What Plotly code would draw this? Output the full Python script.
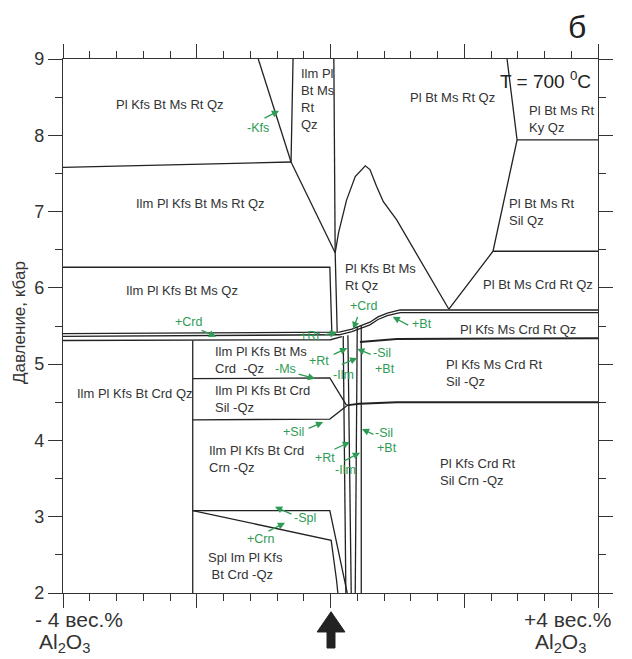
import plotly.graph_objects as go

# ---- data: X = Al2O3 deviation (wt%), P = pressure (kbar) ----
b_top_left_x = [-4.0, -0.59];            b_top_left_y = [7.58, 7.65]
b_kfs_x = [-1.08, -0.59];                b_kfs_y = [9.0, 7.65]
b_vert1_x = [-0.56, -0.59];              b_vert1_y = [9.0, 7.65]
b_diag_x = [-0.59, 0.07];                b_diag_y = [7.65, 6.46]
b_vert2_x = [0.05, 0.07];                b_vert2_y = [9.0, 6.46]
b_curve_x = [0.07, 0.12, 0.24, 0.37, 0.52, 0.59, 0.69, 0.79, 0.99, 1.34, 1.77]
b_curve_y = [6.46, 6.72, 7.15, 7.46, 7.60, 7.55, 7.33, 7.13, 6.89, 6.37, 5.72]
b_rightV_x = [1.77, 2.43, 2.79, 2.64];   b_rightV_y = [5.72, 6.48, 7.94, 9.0]
b_ky_x = [2.79, 4.0];                    b_ky_y = [7.94, 7.94]
b_sil_x = [2.43, 4.0];                   b_sil_y = [6.48, 6.48]
b_msqz_x = [-4.0, -0.01, 0.02];          b_msqz_y = [6.27, 6.27, 5.41]
b_apex_x = [0.07, 0.10];                 b_apex_y = [6.46, 5.42]
b_crd1_x = [-4.0, 0.13, 0.32, 0.44, 0.59, 0.71, 0.85, 1.04, 4.0]
b_crd1_y = [5.40, 5.42, 5.46, 5.50, 5.55, 5.62, 5.67, 5.71, 5.71]
b_crd2_x = [-4.0, 0.13, 0.32, 0.44, 0.59, 0.71, 0.85, 1.04, 4.0]
b_crd2_y = [5.365, 5.385, 5.425, 5.465, 5.515, 5.585, 5.635, 5.675, 5.675]
b_low_x = [-4.0, 0.0, 0.17];             b_low_y = [5.31, 5.32, 5.36]
b_vleft_x = [-2.06, -2.06];              b_vleft_y = [5.31, 2.0]
b_ms_x = [-2.06, -0.01, 0.24];           b_ms_y = [4.81, 4.82, 4.46]
b_silbox_x = [-2.06, -0.01, 0.24];       b_silbox_y = [4.27, 4.28, 4.45]
b_r45_x = [0.24, 0.43, 0.99, 4.0];       b_r45_y = [4.46, 4.48, 4.50, 4.50]
b_r53_x = [0.44, 0.99, 4.0];             b_r53_y = [5.29, 5.33, 5.34]
b_spl1_x = [-2.06, -0.01, 0.25];         b_spl1_y = [3.08, 3.08, 2.0]
b_spl2_x = [-2.06, 0.01, 0.09, 0.11];    b_spl2_y = [3.08, 2.69, 2.17, 2.0]
b_v1_x = [0.19, 0.23];                   b_v1_y = [5.37, 2.0]
b_v2_x = [0.26, 0.31];                   b_v2_y = [5.38, 2.0]
b_v3_x = [0.40, 0.37];                   b_v3_y = [5.49, 2.0]
b_v4_x = [0.46, 0.46];                   b_v4_y = [5.50, 2.0]

# field labels
field_text = ["Pl Kfs Bt Ms Rt Qz", "Pl Bt Ms Rt Qz", "Ilm Pl Kfs Bt Ms Rt Qz",
              "Ilm Pl Kfs Bt Ms Qz", "Pl Bt Ms Crd Rt Qz", "Pl Kfs Ms Crd Rt Qz",
              "Ilm Pl Kfs Bt Crd Qz"]
field_x = [-2.40, 1.82, -1.95, -2.22, 3.10, 2.80, -2.92]
field_y = [8.41, 8.49, 7.11, 5.97, 6.04, 5.46, 4.62]

fieldL_text = ["Ilm Pl<br>Bt Ms<br>Rt<br>Qz", "Pl Bt Ms Rt<br>Ky Qz", "Pl Bt Ms Rt<br>Sil Qz",
               "Pl Kfs Bt Ms<br>Rt Qz", "Ilm Pl Kfs Bt Ms<br>Crd  -Qz",
               "Ilm Pl Kfs Bt Crd<br>Sil -Qz", "Pl Kfs Ms Crd Rt<br>Sil -Qz",
               "Ilm Pl Kfs Bt Crd<br>Crn -Qz", "Pl Kfs Crd Rt<br>Sil Crn -Qz",
               "Spl Im Pl Kfs<br> Bt Crd -Qz"]
fieldL_x = [-0.47, 2.94, 2.64, 0.19, -1.76, -1.76, 1.70, -1.85, 1.61, -1.86]
fieldL_y = [8.48, 8.21, 6.99, 6.14, 5.05, 4.54, 4.88, 3.76, 3.59, 2.36]

# reaction labels (green)
react_text = ["-Kfs", "+Crd", "+Rt", "+Crd", "+Bt", "+Rt", "-Ms", "-Ilm", "-Sil", "+Bt",
              "+Sil", "+Rt", "-Ilm", "-Sil", "+Bt", "-Spl", "+Crn"]
react_x = [-1.08, -2.13, -0.31, 0.50, 1.37, -0.17, -0.67, 0.19, 0.77, 0.81,
           -0.56, -0.08, 0.22, 0.80, 0.84, -0.38, -1.05]
react_y = [8.10, 5.55, 5.37, 5.76, 5.53, 5.04, 4.94, 4.86, 5.15, 4.94,
           4.11, 3.77, 3.61, 4.10, 3.90, 2.98, 2.71]

# reaction arrows: tip position and tail offset (pixels)
arrow_x = [-0.77, -1.71, 0.10, 0.34, 0.93, 0.25, -0.23, 0.40, 0.40, -0.11, 0.29, 0.44, 0.47, -0.83, -0.68]
arrow_y = [8.32, 5.36, 5.41, 5.46, 5.62, 5.21, 4.81, 5.08, 5.20, 4.24, 3.98, 3.84, 4.15, 3.13, 2.92]
arrow_ax = [-16, -16, -14, 5, 17, -15, -18, -17, 15, -16, -17, -17, 13, 18, -18]
arrow_ay = [8, -7, 2, -14, 9, 7, -5, 7, 6, 7, 8, 9, 6, 8, 9]

boundaries = [
    (b_top_left_x, b_top_left_y), (b_kfs_x, b_kfs_y), (b_vert1_x, b_vert1_y),
    (b_diag_x, b_diag_y), (b_vert2_x, b_vert2_y), (b_curve_x, b_curve_y),
    (b_rightV_x, b_rightV_y), (b_ky_x, b_ky_y), (b_sil_x, b_sil_y),
    (b_msqz_x, b_msqz_y), (b_apex_x, b_apex_y), (b_crd1_x, b_crd1_y),
    (b_crd2_x, b_crd2_y), (b_low_x, b_low_y), (b_vleft_x, b_vleft_y),
    (b_ms_x, b_ms_y), (b_silbox_x, b_silbox_y), (b_r45_x, b_r45_y),
    (b_r53_x, b_r53_y), (b_spl1_x, b_spl1_y), (b_spl2_x, b_spl2_y),
    (b_v1_x, b_v1_y), (b_v2_x, b_v2_y), (b_v3_x, b_v3_y), (b_v4_x, b_v4_y),
]
thick = {id(b_r53_x), id(b_r45_x)}

FONT = "Liberation Sans, Arial, sans-serif"
GREEN = "#2e9b55"
INK = "#333333"

fig = go.Figure()
for bx, by in boundaries:
    fig.add_trace(go.Scatter(x=bx, y=by, mode="lines", hoverinfo="skip",
                             line=dict(color="#222222", width=1.9 if id(bx) in thick else 1.3),
                             showlegend=False))

ann = []
for t, x, y in zip(field_text, field_x, field_y):
    ann.append(dict(x=x, y=y, text=t, showarrow=False, xanchor="center", yanchor="middle",
                    font=dict(size=13, color=INK, family=FONT)))
for t, x, y in zip(fieldL_text, fieldL_x, fieldL_y):
    ann.append(dict(x=x, y=y, text=t, showarrow=False, xanchor="left", yanchor="middle", align="left",
                    font=dict(size=13, color=INK, family=FONT)))
for t, x, y in zip(react_text, react_x, react_y):
    ann.append(dict(x=x, y=y, text=t, showarrow=False, xanchor="center", yanchor="middle",
                    font=dict(size=12.5, color=GREEN, family=FONT)))
for x, y, ax, ay in zip(arrow_x, arrow_y, arrow_ax, arrow_ay):
    ann.append(dict(x=x, y=y, ax=ax, ay=ay, text=" ", showarrow=True, arrowhead=2,
                    arrowsize=1.1, arrowwidth=1.3, arrowcolor=GREEN, standoff=0,
                    font=dict(size=1)))

ann.append(dict(x=3.93, y=8.72, text="T = 700 <sup>0</sup>C", showarrow=False, xanchor="right",
                yanchor="middle", font=dict(size=19, color="#222", family=FONT)))
ann.append(dict(x=0.961, y=1.06, xref="paper", yref="paper", text="б", showarrow=False,
                xanchor="center", yanchor="middle", font=dict(size=32, color="#222", family=FONT)))
ann.append(dict(x=-0.080, y=0.506, xref="paper", yref="paper", text="Давление, кбар",
                textangle=-90, showarrow=False, xanchor="center", yanchor="middle",
                font=dict(size=17, color=INK, family=FONT)))
ann.append(dict(x=-0.056, y=-0.050, xref="paper", yref="paper", text="- 4 вес.%",
                xanchor="left", yanchor="middle", showarrow=False,
                font=dict(size=21, color=INK, family=FONT)))
ann.append(dict(x=-0.049, y=-0.093, xref="paper", yref="paper", text="Al<sub>2</sub>O<sub>3</sub>",
                xanchor="left", yanchor="middle", showarrow=False,
                font=dict(size=21, color=INK, family=FONT)))
ann.append(dict(x=1.028, y=-0.050, xref="paper", yref="paper", text="+4 вес.%",
                xanchor="right", yanchor="middle", showarrow=False,
                font=dict(size=21, color=INK, family=FONT)))
ann.append(dict(x=0.929, y=-0.093, xref="paper", yref="paper", text="Al<sub>2</sub>O<sub>3</sub>",
                xanchor="center", yanchor="middle", showarrow=False,
                font=dict(size=21, color=INK, family=FONT)))

shapes = [dict(type="path", xref="paper", yref="paper",
               path="M 0.475 -0.073 L 0.501 -0.035 L 0.527 -0.073 L 0.5084 -0.073 "
                    "L 0.5084 -0.103 L 0.4935 -0.103 L 0.4935 -0.073 Z",
               fillcolor="#222", line=dict(color="#222", width=1))]

axis_common = dict(showgrid=False, zeroline=False, showline=True, linecolor=INK, linewidth=1.3,
                   mirror="ticks", ticks="outside", ticklen=14, tickwidth=1.2, tickcolor=INK)
fig.update_layout(
    width=624, height=651, margin=dict(l=55, r=34, t=51, b=66),
    plot_bgcolor="white", paper_bgcolor="white",
    xaxis=dict(range=[-4, 4], tick0=-4, dtick=2, showticklabels=False,
               minor=dict(dtick=0.4, tick0=-4, ticklen=7, ticks="outside", tickcolor=INK, tickwidth=1.2),
               **axis_common),
    yaxis=dict(range=[2, 9], tick0=2, dtick=1,
               tickfont=dict(size=18, color=INK, family=FONT),
               minor=dict(dtick=0.5, ticklen=7, ticks="outside", tickcolor=INK, tickwidth=1.2),
               **axis_common),
    annotations=ann, shapes=shapes, showlegend=False,
)
fig.write_html("out.html")
